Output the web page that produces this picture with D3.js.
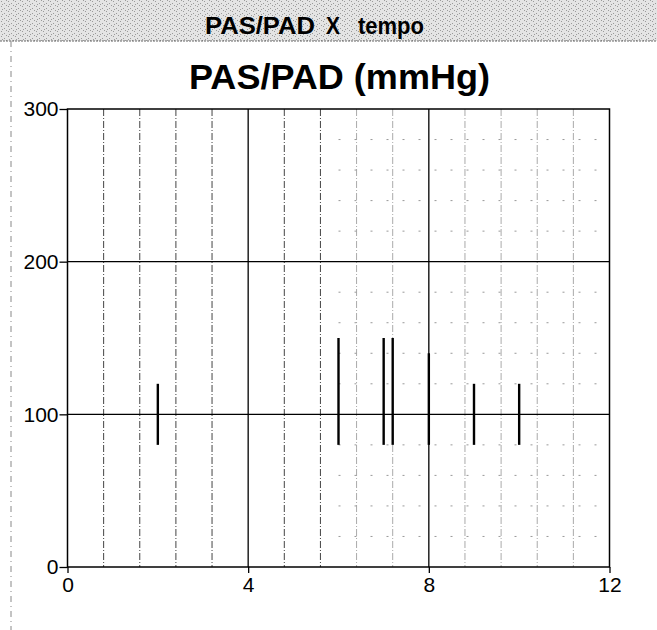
<!DOCTYPE html>
<html><head><meta charset="utf-8">
<script src="https://cdn.jsdelivr.net/npm/d3@7"></script>
<style>body{margin:0;background:#fff}svg{display:block}</style>
</head><body>
<svg id="c" width="657" height="630"></svg>
<script>
const headerWords = ["PAS/PAD", "X", "tempo"];
const titleText = "PAS/PAD (mmHg)";
const times = [2, 6, 7, 7.2, 8, 9, 10];
const pas = [120, 150, 150, 150, 140, 120, 120];
const pad = [80, 80, 80, 80, 80, 80, 80];
const xTicks = [0, 4, 8, 12];
const yTicks = [0, 100, 200, 300];

const svg = d3.select("#c");
const m = {l: 67.5, r: 609.5, t: 109, b: 567};
const x = d3.scaleLinear().domain([0, 12]).range([m.l, m.r]);
const y = d3.scaleLinear().domain([0, 300]).range([m.b, m.t]);
const fontFam = "Liberation Sans, Arial, sans-serif";

// header band with speckle pattern
const defs = svg.append("defs");
const pat = defs.append("pattern").attr("id", "speck").attr("width", 7).attr("height", 5)
  .attr("patternUnits", "userSpaceOnUse");
pat.append("rect").attr("width", 7).attr("height", 5).attr("fill", "#e4e4e4");
[[1,1],[4,3],[6,0],[2,4]].forEach(p => pat.append("rect").attr("x", p[0]).attr("y", p[1])
  .attr("width", 1).attr("height", 1).attr("fill", "#9a9a9a"));
svg.append("rect").attr("x", 0).attr("y", 0).attr("width", 657).attr("height", 41).attr("fill", "url(#speck)");
svg.append("line").attr("x1", 0).attr("x2", 657).attr("y1", 41).attr("y2", 41)
  .attr("stroke", "#666").attr("stroke-dasharray", "2,1");
svg.append("line").attr("x1", 11).attr("x2", 11).attr("y1", 41).attr("y2", 630)
  .attr("stroke", "#888").attr("stroke-dasharray", "6,4,1,4");

const headerPos = [[205, 110], [326, 14], [358, 66]];
svg.append("g").selectAll("text").data(headerWords).join("text")
  .attr("x", (d, i) => headerPos[i][0]).attr("y", 34)
  .attr("textLength", (d, i) => headerPos[i][1]).attr("lengthAdjust", "spacingAndGlyphs")
  .attr("font-family", fontFam).attr("font-weight", "bold").attr("font-size", 24).text(d => d);

svg.append("text").attr("x", 189).attr("y", 89)
  .attr("textLength", 301).attr("lengthAdjust", "spacingAndGlyphs")
  .attr("font-family", fontFam).attr("font-weight", "bold")
  .attr("font-size", 35).text(titleText);

// minor grid
const minorX = d3.range(1, 15).map(i => i * 0.8).filter(v => v < 12 && Math.abs(v / 4 - Math.round(v / 4)) > 0.01);
svg.append("g").selectAll("line").data(minorX).join("line")
  .attr("x1", d => x(d)).attr("x2", d => x(d)).attr("y1", y(300)).attr("y2", y(0))
  .attr("stroke", d => d < 6 ? "#444" : "#aaa").attr("stroke-width", 1).attr("stroke-dasharray", "7,2,1,2");
const minorY = d3.range(1, 15).map(i => i * 20).filter(v => v % 100 !== 0);
svg.append("g").selectAll("line").data(minorY).join("line")
  .attr("x1", x(6)).attr("x2", x(12)).attr("y1", d => y(d)).attr("y2", d => y(d))
  .attr("stroke", "#999").attr("stroke-width", 1).attr("stroke-dasharray", "2,14");

// major grid
svg.append("g").selectAll("line").data([4, 8]).join("line")
  .attr("x1", d => x(d)).attr("x2", d => x(d)).attr("y1", y(300)).attr("y2", y(0))
  .attr("stroke", "#000").attr("stroke-width", 1.3);
svg.append("g").selectAll("line").data([100, 200]).join("line")
  .attr("x1", x(0)).attr("x2", x(12)).attr("y1", d => y(d)).attr("y2", d => y(d))
  .attr("stroke", "#000").attr("stroke-width", 1.3);

// frame
svg.append("rect").attr("x", x(0)).attr("y", y(300)).attr("width", x(12) - x(0)).attr("height", y(0) - y(300))
  .attr("fill", "none").attr("stroke", "#000").attr("stroke-width", 1.5);

// axes
const yAxis = svg.append("g").attr("transform", `translate(${x(0)},0)`)
  .call(d3.axisLeft(y).tickValues(yTicks).tickSize(8).tickPadding(1));
const xAxis = svg.append("g").attr("transform", `translate(0,${y(0)})`)
  .call(d3.axisBottom(x).tickValues(xTicks).tickSize(6).tickPadding(4));
[yAxis, xAxis].forEach(a => {
  a.select(".domain").remove();
  a.selectAll("text").attr("font-family", fontFam).attr("font-size", 21).attr("fill", "#000");
  a.selectAll("line").attr("stroke", "#000").attr("stroke-width", 1.3);
});

// range bars
svg.append("g").selectAll("line").data(times).join("line")
  .attr("x1", d => x(d)).attr("x2", d => x(d))
  .attr("y1", (d, i) => y(pas[i])).attr("y2", (d, i) => y(pad[i]))
  .attr("stroke", "#000").attr("stroke-width", 2.4);
</script>
</body></html>
